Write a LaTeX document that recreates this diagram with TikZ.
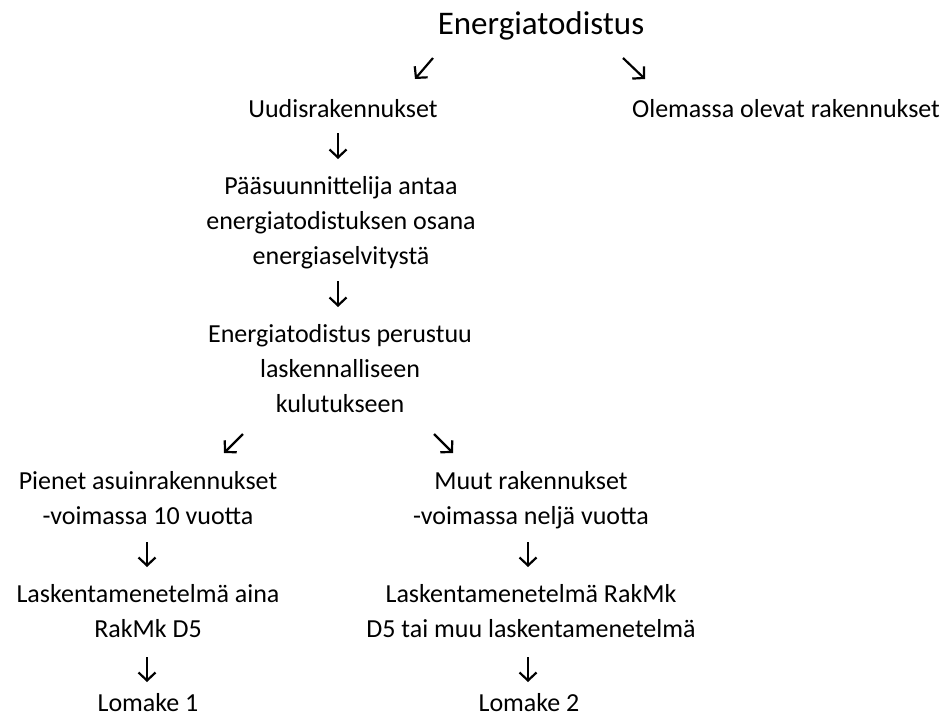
\documentclass[tikz,border=0pt]{standalone}
\usepackage{fontspec}
\setmainfont{Carlito}
\usepackage{tikz}
\usetikzlibrary{arrows.meta,positioning}

\begin{document}
\begin{tikzpicture}[x=1pt,y=-1pt,
  arr/.style={line width=2.2pt,-{Straight Barb[length=8pt,width=17pt,line width=2.2pt]}},
  box/.style={align=center,inner sep=0pt,font=\fontsize{26}{35}\selectfont,
    execute at begin node=\strut,execute at end node=\strut},
  line/.style={inner sep=0pt,anchor=base,font=\fontsize{26}{35}\selectfont}]

  \useasboundingbox (0,0) rectangle (947,716);

  \node[line,font=\fontsize{33}{40}\selectfont] (top) at (541,34) {Energiatodistus};

  \node[line] (uudis) at (343,117) {Uudisrakennukset};
  \node[line] (olem) at (786,117) {Olemassa olevat rakennukset};

  \node[box] (paa) at (341,226) {Pääsuunnittelija antaa\\energiatodistuksen osana\\energiaselvitystä};
  \node[box] (perus) at (340,374) {Energiatodistus perustuu\\laskennalliseen\\kulutukseen};

  \node[box] (pien) at (148,503) {Pienet asuinrakennukset\\-voimassa 10 vuotta};
  \node[box] (muut) at (531,503) {Muut rakennukset\\-voimassa neljä vuotta};

  \node[box] (lask1) at (148,616) {Laskentamenetelmä aina\\RakMk D5};
  \node[box] (lask2) at (531,616) {Laskentamenetelmä RakMk\\D5 tai muu laskentamenetelmä};

  \node[line] (lom1) at (148,711) {Lomake 1};
  \node[line] (lom2) at (529,711) {Lomake 2};

  % arrow ends
  \coordinate (a1) at (433,58);  \coordinate (b1) at (415,79);
  \coordinate (a2) at (623,58);  \coordinate (b2) at (645,79);
  \coordinate (a3) at (338,133); \coordinate (b3) at (338,159);
  \coordinate (a4) at (338,281); \coordinate (b4) at (338,307);
  \coordinate (a5) at (243,434); \coordinate (b5) at (224,453);
  \coordinate (a6) at (434,434); \coordinate (b6) at (453,453);
  \coordinate (a7) at (147,542); \coordinate (b7) at (147,567);
  \coordinate (a8) at (528,542); \coordinate (b8) at (528,567);
  \coordinate (a9) at (147,657); \coordinate (b9) at (147,682);
  \coordinate (a10) at (528,657); \coordinate (b10) at (528,682);

  \path[arr]
    (a1) edge (b1)
    (a2) edge (b2)
    (a3) edge (b3)
    (a4) edge (b4)
    (a5) edge (b5)
    (a6) edge (b6)
    (a7) edge (b7)
    (a8) edge (b8)
    (a9) edge (b9)
    (a10) edge (b10);

\end{tikzpicture}
\end{document}
